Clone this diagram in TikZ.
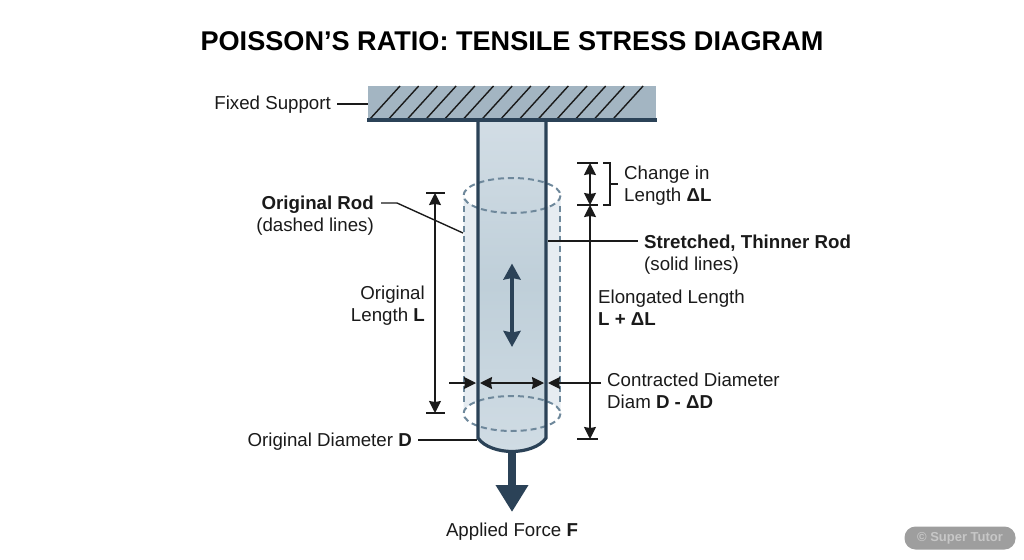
\documentclass[tikz,border=0pt]{standalone}
\usepackage{fontspec}
\setmainfont{Liberation Sans}
\usetikzlibrary{arrows.meta,calc}
\definecolor{steel}{HTML}{2B4257}
\definecolor{ink}{HTML}{1A1A1A}
\definecolor{rodfill}{HTML}{BFCFD9}
\definecolor{rodtop}{HTML}{D2DDE5}
\definecolor{rodend}{HTML}{D0DCE4}
\definecolor{ghost}{HTML}{E6ECF1}
\definecolor{dashc}{HTML}{6E889B}
\definecolor{wall}{HTML}{A3B5C2}
\tikzset{
  lbl/.style={font=\fontsize{18.7}{22}\selectfont,text=ink,inner sep=0pt,align=left},
  leader/.style={draw=ink,line width=1.4pt},
  dim/.style={draw=ink,line width=1.4pt},
  dimarrow/.style={dim,{Stealth[length=12pt,width=12pt,inset=1pt]}-{Stealth[length=12pt,width=12pt,inset=1pt]}},
  tip/.style={dim,-{Stealth[length=12pt,width=12pt,inset=1pt]}},
  rodline/.style={draw=steel,line width=3.2pt},
  dashline/.style={draw=dashc,line width=2pt,dash pattern=on 6pt off 4pt},
}
\begin{document}
\begin{tikzpicture}[x=1pt,y=-1pt]
\useasboundingbox (0,0) rectangle (1024,559);
% support
\fill[wall] (368,86) rectangle (656,120);
\foreach \k in {0,...,13}{
  \draw[ink,line width=1.4pt] ({370+18.7*\k},119) -- ({400+18.7*\k},86);
}
% ghost cylinder
\fill[ghost] (463.5,195) arc[x radius=48.5,y radius=17.5,start angle=180,end angle=0] -- (560.5,413.5) arc[x radius=48.5,y radius=17.5,start angle=0,end angle=-180] -- cycle;
% rod
\path[top color=rodtop,bottom color=rodend,middle color=rodfill] (478,120) -- (546,120) -- (546,438) .. controls (540,447) and (525,451) .. (512,451) .. controls (499,451) and (484,447) .. (478,438) -- cycle;
% dashed
\draw[dashline] (464,206) -- (464,404);
\draw[dashline] (560,206) -- (560,404);
\draw[dashline] (512,195.5) ellipse[x radius=48.5,y radius=17.5];
\draw[dashline] (512,413.5) ellipse[x radius=48.5,y radius=17.5];
% rod outline
\draw[rodline] (478,120) -- (478,438) .. controls (484,447) and (499,451.5) .. (512,451.5) .. controls (525,451.5) and (540,447) .. (546,438) -- (546,120);
\draw[draw=steel,line width=3.2pt] (367,120) -- (657,120);
% force arrow
\coordinate (rodbottom) at (512,452);
\coordinate (forcetip) at (512,512);
\draw[steel,line width=8pt,-{Triangle[length=27pt,width=31pt]}] (rodbottom) -- (forcetip);
% inner double arrow
\coordinate (ia) at (512,263.5);
\coordinate (ib) at (512,347);
\draw[steel,line width=4pt,{Stealth[length=16pt,width=17pt,inset=1.5pt]}-{Stealth[length=16pt,width=17pt,inset=1.5pt]}] (ia) -- (ib);
% title
\node[font=\bfseries\fontsize{27.1}{32}\selectfont,text=black,inner sep=0pt] (title) at (512,41) {POISSON’S RATIO: TENSILE STRESS DIAGRAM};
% labels
\node[lbl,anchor=base east] (fixed) at (331,110) {Fixed Support};
\coordinate (fixedend) at (368,104);
\draw[leader] (337,104) -- (fixedend);
\node[lbl,anchor=base east,align=right] (orod) at (374,209) {\textbf{Original Rod}};
\node[lbl,anchor=base east,align=right] (orod2) at (374,231) {(dashed lines)};
\coordinate (orodend) at (463,233);
\coordinate (orodbend) at (397,203);
\draw[leader] (381,203) -- (orodbend) -- (orodend);
\node[lbl,anchor=base east] (olen1) at (425,299) {Original};
\node[lbl,anchor=base east] (olen2) at (425,321) {Length \textbf{L}};
\coordinate (ola) at (435,193); \coordinate (olb) at (435,413);
\draw[dimarrow] (ola) -- (olb);
\draw[dim] (426,193) -- (445,193) (426,413) -- (445,413);
\node[lbl,anchor=base west] (chg1) at (624,179) {Change in};
\node[lbl,anchor=base west] (chg2) at (624,201) {Length \textbf{ΔL}};
\coordinate (ca) at (590,163); \coordinate (cb) at (590,205); \coordinate (cc) at (590,439);
\draw[dimarrow] (ca) -- (cb);
\draw[dimarrow] (cb) -- (cc);
\draw[dim] (577,163) -- (598,163) (577,205) -- (598,205) (577,439) -- (598,439);
\draw[dim] (603,163) -- (610,163) -- (610,205) -- (603,205) (610,184) -- (618,184);
\node[lbl,anchor=base west] (stretch) at (644,248) {\textbf{Stretched, Thinner Rod}};
\node[lbl,anchor=base west] (stretch2) at (644,270) {(solid lines)};
\coordinate (stretchend) at (548,241);
\draw[leader] (stretchend) -- (638,241);
\node[lbl,anchor=base west] (elong) at (598,303) {Elongated Length};
\node[lbl,anchor=base west] (elong2) at (598,325) {\textbf{L + ΔL}};
\node[lbl,anchor=base west] (contr) at (607,386) {Contracted Diameter};
\node[lbl,anchor=base west] (contr2) at (607,408) {Diam \textbf{D - ΔD}};
\coordinate (dl) at (449,383); \coordinate (dli) at (476,383);
\coordinate (dia) at (480,383); \coordinate (dib) at (544,383);
\coordinate (dri) at (548,383); \coordinate (dr) at (601,383);
\draw[tip] (dl) -- (dli);
\draw[dimarrow] (dia) -- (dib);
\draw[tip] (dr) -- (dri);
\node[lbl,anchor=base east] (odia) at (412,446) {Original Diameter \textbf{D}};
\coordinate (odiaend) at (477,440);
\draw[leader] (418,440) -- (odiaend);
\node[lbl,anchor=base] (force) at (512,536) {Applied Force \textbf{F}};
% badge
\node[fill=black!38,rounded corners=11pt,minimum width=111pt,minimum height=23pt,inner sep=0pt,font=\bfseries\fontsize{13}{14}\selectfont,text=black!22] (badge) at (960,538) {© Super Tutor};
\end{tikzpicture}
\end{document}
